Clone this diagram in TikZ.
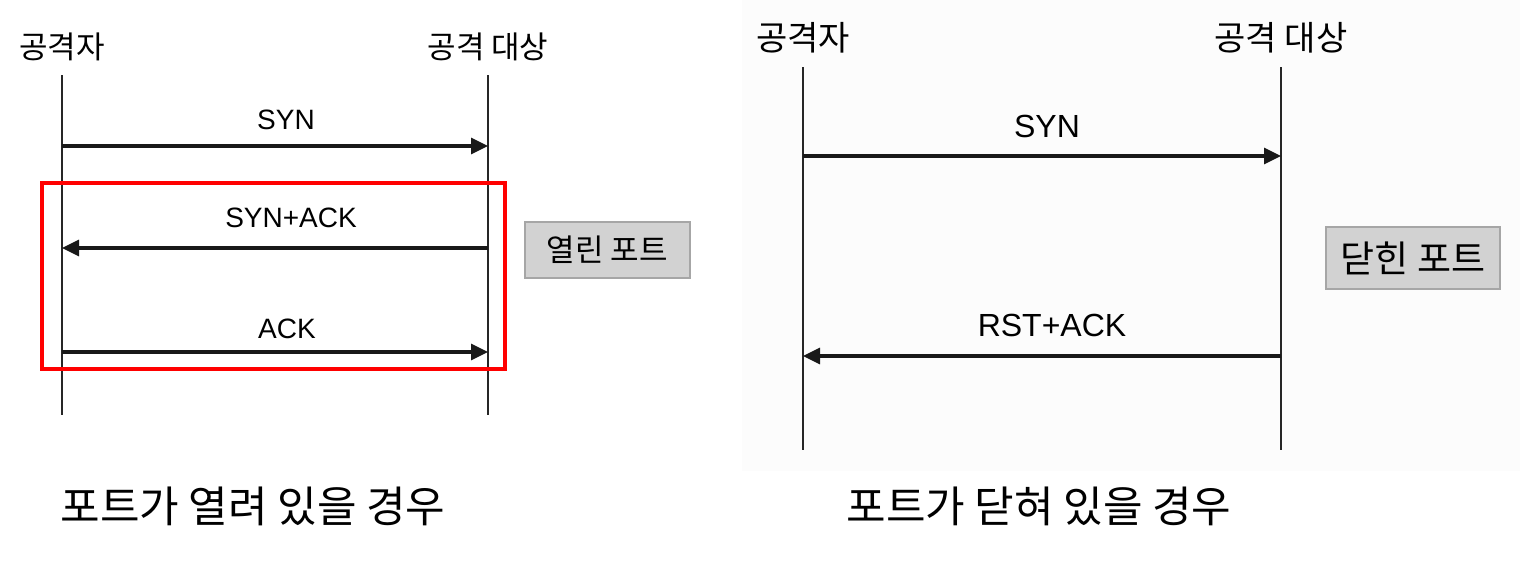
\documentclass[tikz,border=0pt]{standalone}
\usepackage{fontspec}
\setmainfont{Noto Sans CJK KR}
\newfontfamily\latinlbl{Liberation Sans}
\usetikzlibrary{arrows.meta}
\begin{document}
\begin{tikzpicture}[x=1pt,y=-1pt,
  lifeline/.style={line width=2.3pt,black!85},
  msg/.style={line width=3.2pt,black!90,-{Triangle[length=17pt,width=16pt]}},
  msglbl/.style={inner sep=0pt,anchor=center},
  statebox/.style={draw=gray!70,line width=1.5pt,fill=gray!35,inner sep=0pt},
  frame/.style={draw=red,line width=4.5pt}]
\useasboundingbox (0,0) rectangle (1540,562);
\fill[white] (0,0) rectangle (1540,562);
% right panel faint background
\fill[gray!2] (742,0) rectangle (1520,471);

% ---------- left panel ----------
\node[msglbl,font=\fontsize{31}{31}\selectfont] (la) at (62,47) {공격자};
\node[msglbl,font=\fontsize{31}{31}\selectfont] (lt) at (488,47) {공격 대상};
\coordinate (la0) at (62,75);  \coordinate (la1) at (62,415);
\coordinate (lt0) at (488,75); \coordinate (lt1) at (488,415);
\draw[lifeline] (la0) -- (la1);
\draw[lifeline] (lt0) -- (lt1);
\coordinate (la2) at (62,146);  \coordinate (lt2) at (488,146);
\coordinate (la3) at (62,248);  \coordinate (lt3) at (488,248);
\coordinate (la4) at (62,352);  \coordinate (lt4) at (488,352);
\draw[msg] (la2) -- (lt2);
\draw[msg] (lt3) -- (la3);
\draw[msg] (la4) -- (lt4);
\node[msglbl,font=\latinlbl\fontsize{28}{28}\selectfont] (l1) at (286,120) {SYN};
\node[msglbl,font=\latinlbl\fontsize{28}{28}\selectfont] (l2) at (291,218) {SYN+ACK};
\node[msglbl,font=\latinlbl\fontsize{28}{28}\selectfont] (l3) at (287,329) {ACK};
\draw[frame] (42,183) rectangle (505,369);
\node[statebox,minimum width=165pt,minimum height=56pt,font=\fontsize{31}{31}\selectfont] (open) at (607.5,250) {열린 포트};
\node[msglbl,font=\fontsize{43}{43}\selectfont] (cap1) at (253,506) {포트가 열려 있을 경우};

% ---------- right panel ----------
\node[msglbl,font=\fontsize{34}{34}\selectfont] (ra) at (803,38) {공격자};
\node[msglbl,font=\fontsize{34}{34}\selectfont] (rt) at (1281,38) {공격 대상};
\coordinate (ra0) at (803,67);  \coordinate (ra1) at (803,450);
\coordinate (rt0) at (1281,67); \coordinate (rt1) at (1281,450);
\draw[lifeline] (ra0) -- (ra1);
\draw[lifeline] (rt0) -- (rt1);
\coordinate (ra2) at (803,156);  \coordinate (rt2) at (1281,156);
\coordinate (ra3) at (803,356);  \coordinate (rt3) at (1281,356);
\draw[msg] (ra2) -- (rt2);
\draw[msg] (rt3) -- (ra3);
\node[msglbl,font=\latinlbl\fontsize{32}{32}\selectfont] (r1) at (1047,126) {SYN};
\node[msglbl,font=\latinlbl\fontsize{32}{32}\selectfont] (r2) at (1052,325) {RST+ACK};
\node[statebox,minimum width=174pt,minimum height=62pt,font=\fontsize{37}{37}\selectfont] (closed) at (1413,258) {닫힌 포트};
\node[msglbl,font=\fontsize{43}{43}\selectfont] (cap2) at (1039,506) {포트가 닫혀 있을 경우};
\end{tikzpicture}
\end{document}
